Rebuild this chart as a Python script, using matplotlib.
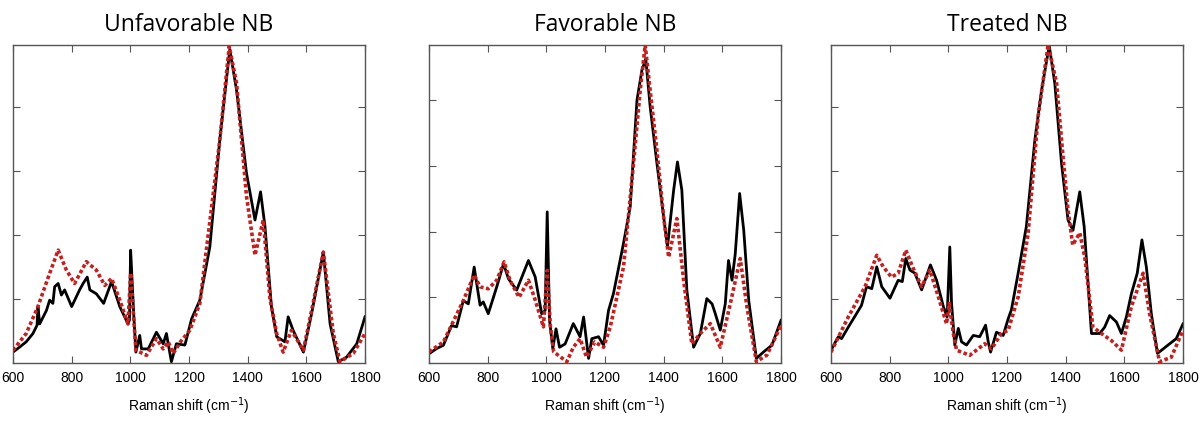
import numpy as np
import matplotlib
matplotlib.use("Agg")
import matplotlib.pyplot as plt

# Raman spectra, normalised intensity vs wavenumber (cm-1)
titles = ["Unfavorable NB", "Favorable NB", "Treated NB"]

unfav_x = [600, 623, 645, 668, 682, 685, 691, 714, 725, 736, 742, 754, 765, 776, 800, 827, 839, 853, 862, 884,
           909, 936, 964, 992, 997, 1001, 1006, 1012, 1019, 1032, 1038, 1061, 1089, 1112, 1123, 1140, 1157, 1186,
           1209, 1237, 1271, 1305, 1339, 1362, 1396, 1425, 1444, 1459, 1481, 1499, 1527, 1538, 1555, 1590, 1618,
           1658, 1681, 1709, 1737, 1772, 1800]
unfav_y = [0.17, 0.25, 0.33, 0.46, 0.59, 0.88, 0.61, 0.82, 0.98, 0.93, 1.19, 1.24, 1.06, 1.14, 0.88, 1.14, 1.24,
           1.34, 1.14, 1.08, 0.93, 1.27, 0.88, 0.61, 0.67, 1.76, 1.29, 0.72, 0.17, 0.43, 0.22, 0.22, 0.48, 0.30,
           0.46, 0.02, 0.30, 0.28, 0.69, 0.98, 1.81, 3.48, 4.89, 4.26, 2.96, 2.23, 2.67, 2.13, 0.88, 0.41, 0.33,
           0.72, 0.51, 0.17, 0.77, 1.73, 0.61, 0.02, 0.09, 0.30, 0.72]
unfav_rx = [600, 645, 685, 725, 754, 782, 810, 850, 884, 913, 936, 964, 992, 1001, 1019, 1055, 1089, 1112, 1129,
            1146, 1174, 1203, 1237, 1305, 1337, 1362, 1396, 1425, 1453, 1476, 1499, 1521, 1549, 1590, 1618, 1658,
            1692, 1715, 1760, 1800]
unfav_ry = [0.20, 0.46, 0.88, 1.40, 1.76, 1.45, 1.24, 1.58, 1.45, 1.21, 1.32, 0.98, 0.61, 1.40, 0.20, 0.12, 0.38,
            0.22, 0.33, 0.15, 0.35, 0.51, 0.93, 3.48, 4.94, 4.37, 2.60, 1.68, 2.23, 1.00, 0.46, 0.17, 0.51, 0.20,
            0.82, 1.73, 0.46, 0.02, 0.15, 0.46]

fav_x = [600, 626, 649, 677, 694, 717, 734, 754, 774, 785, 802, 831, 854, 871, 899, 939, 962, 984, 996, 1003,
         1011, 1022, 1033, 1045, 1064, 1092, 1115, 1127, 1144, 1155, 1178, 1195, 1212, 1229, 1263, 1286, 1309,
         1326, 1339, 1354, 1377, 1400, 1413, 1434, 1447, 1462, 1479, 1502, 1525, 1547, 1565, 1576, 1593, 1610,
         1621, 1633, 1644, 1659, 1673, 1690, 1716, 1741, 1769, 1800]
fav_y = [0.14, 0.22, 0.27, 0.57, 0.55, 0.95, 0.90, 1.46, 0.88, 0.93, 0.75, 1.16, 1.51, 1.28, 1.11, 1.56, 1.31,
         0.75, 0.80, 2.30, 0.65, 0.22, 0.52, 0.24, 0.29, 0.60, 0.40, 0.70, 0.07, 0.37, 0.40, 0.27, 0.80, 1.06,
         1.82, 2.38, 4.00, 4.46, 4.63, 3.90, 3.04, 2.22, 1.77, 2.63, 3.06, 2.63, 1.11, 0.24, 0.45, 0.98, 0.90,
         0.75, 0.50, 0.90, 1.56, 1.26, 1.66, 2.58, 2.02, 0.95, 0.07, 0.17, 0.27, 0.65]
fav_rx = [600, 649, 717, 754, 774, 802, 831, 856, 876, 907, 939, 962, 990, 1003, 1014, 1025, 1070, 1092, 1115,
          1137, 1165, 1195, 1218, 1263, 1297, 1320, 1337, 1354, 1377, 1400, 1417, 1445, 1468, 1496, 1525, 1559,
          1593, 1627, 1661, 1684, 1716, 1752, 1800]
fav_ry = [0.17, 0.32, 0.95, 1.34, 1.16, 1.13, 1.26, 1.54, 1.26, 1.00, 1.26, 0.96, 0.55, 1.41, 0.55, 0.17, 0.02,
          0.24, 0.37, 0.09, 0.32, 0.24, 0.55, 1.46, 3.03, 4.15, 4.84, 4.15, 3.24, 2.22, 1.61, 2.20, 1.26, 0.29,
          0.45, 0.60, 0.24, 0.90, 1.59, 0.85, 0.02, 0.12, 0.57]

treat_x = [600, 625, 636, 659, 687, 704, 721, 739, 756, 773, 801, 829, 843, 855, 869, 886, 909, 939, 960, 983,
           996, 1005, 1011, 1022, 1034, 1045, 1062, 1085, 1107, 1127, 1136, 1144, 1164, 1187, 1204, 1215, 1238,
           1266, 1295, 1318, 1344, 1363, 1386, 1408, 1425, 1448, 1463, 1488, 1516, 1533, 1550, 1573, 1590, 1607,
           1624, 1644, 1660, 1675, 1692, 1713, 1749, 1777, 1800]
treat_y = [0.20, 0.41, 0.38, 0.56, 0.77, 0.90, 1.19, 1.16, 1.50, 1.19, 1.01, 1.29, 1.27, 1.63, 1.45, 1.40, 1.14,
           1.53, 1.29, 0.88, 0.72, 1.81, 0.93, 0.28, 0.54, 0.33, 0.28, 0.43, 0.41, 0.59, 0.33, 0.17, 0.48, 0.43,
           0.69, 0.83, 1.40, 2.13, 3.48, 4.26, 4.95, 4.36, 3.11, 2.23, 2.07, 2.67, 2.13, 0.46, 0.46, 0.56, 0.74,
           0.64, 0.46, 0.72, 1.08, 1.40, 1.92, 1.50, 0.77, 0.15, 0.28, 0.38, 0.61]
treat_rx = [600, 659, 716, 756, 778, 806, 829, 855, 880, 909, 937, 966, 994, 1003, 1017, 1028, 1073, 1124, 1147,
            1181, 1204, 1238, 1272, 1306, 1340, 1369, 1391, 1408, 1424, 1448, 1465, 1493, 1522, 1556, 1590, 1624,
            1664, 1686, 1720, 1760, 1800]
treat_ry = [0.17, 0.72, 1.19, 1.68, 1.50, 1.34, 1.40, 1.76, 1.48, 1.19, 1.45, 1.03, 0.61, 0.93, 0.46, 0.20, 0.12,
            0.30, 0.22, 0.46, 0.51, 1.03, 2.02, 3.84, 4.96, 4.37, 3.22, 2.39, 1.84, 2.03, 1.65, 0.56, 0.46, 0.35,
            0.20, 0.88, 1.40, 0.77, 0.02, 0.09, 0.51]

spectra = [(unfav_x, unfav_y, unfav_rx, unfav_ry),
           (fav_x, fav_y, fav_rx, fav_ry),
           (treat_x, treat_y, treat_rx, treat_ry)]
ytops = [4.96, 4.84, 4.96]
xticks = [600, 800, 1000, 1200, 1400, 1600, 1800]

fig = plt.figure(figsize=(12.01, 4.25), dpi=100)
lefts = [13, 429, 831]
W, H = 1201, 425
tick_font = ["Liberation Sans", "DejaVu Sans"]

for k in range(3):
    ax = fig.add_axes([lefts[k] / W, 1 - 363 / H, 352 / W, 318 / H])
    bx, by, rx, ry = spectra[k]
    ax.plot(bx, by, color="black", lw=2.0, solid_joinstyle="round", zorder=2)
    ax.plot(rx, ry, color="#c42020", lw=2.6, linestyle=(0, (1.0, 0.7)), zorder=3)
    ax.set_xlim(600, 1800)
    ax.set_ylim(0, ytops[k])
    ax.set_xticks(xticks)
    ax.set_xticklabels([str(t) for t in xticks], family=tick_font, fontsize=10)
    ax.set_yticks([1, 2, 3, 4])
    ax.set_yticklabels([])
    ax.tick_params(direction="in", length=5, width=0.8, color="#555555",
                   top=True, right=True, pad=6)
    for s in ax.spines.values():
        s.set_color("#555555")
        s.set_linewidth(1.0)
    ax.set_xlabel("Raman shift (cm$^{-1}$)", family=tick_font, fontsize=10, labelpad=7)
    ax.set_title(titles[k], family=["Open Sans", "DejaVu Sans"], fontsize=16.5, pad=10)

fig.savefig("out.png", dpi=100)
